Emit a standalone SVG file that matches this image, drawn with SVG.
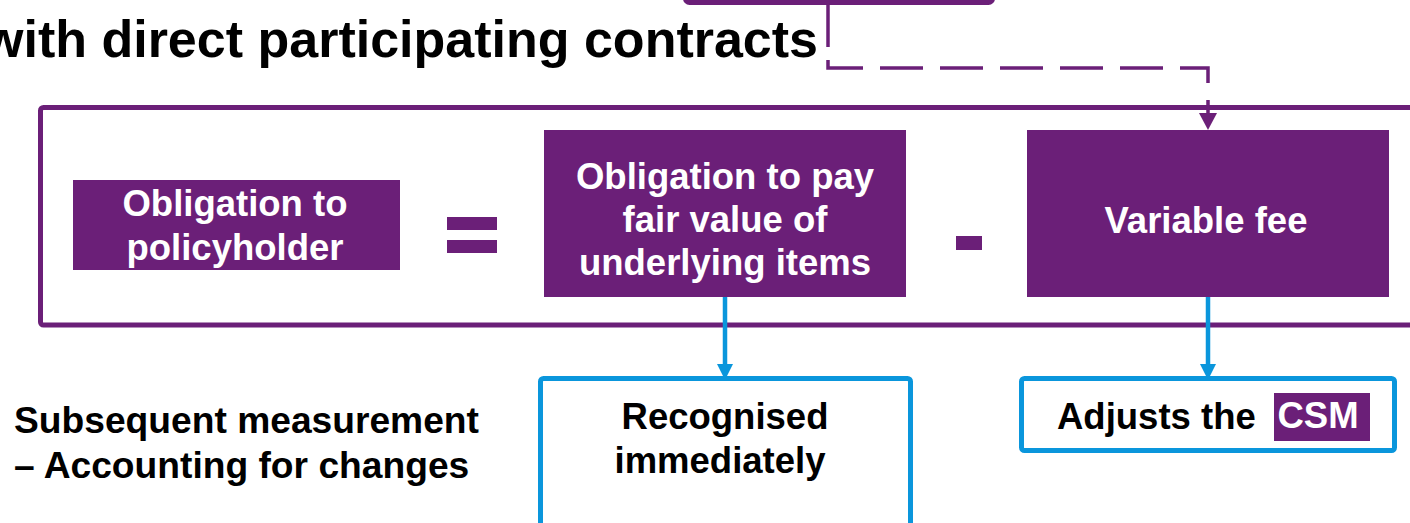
<svg xmlns="http://www.w3.org/2000/svg" width="1410" height="523" viewBox="0 0 1410 523">
<defs>
<style>
.t{font-family:"Liberation Sans",Arial,sans-serif;font-weight:bold;}
.w{fill:#ffffff;font-size:36.5px;}
.k{fill:#000000;font-size:36.5px;}
.pbox{fill:#6B1F78;}
.bbox{fill:#ffffff;stroke:#0A96DC;stroke-width:5;}
.pline{fill:none;stroke:#6B1F78;stroke-width:5;}
</style>
<marker id="ap" markerUnits="userSpaceOnUse" viewBox="0 0 17 18" markerWidth="17" markerHeight="18" refX="7" refY="9" orient="auto">
<path d="M0,0 L17,9 L0,18 z" fill="#6B1F78"/>
</marker>
<marker id="ab" markerUnits="userSpaceOnUse" viewBox="0 0 16 16" markerWidth="16" markerHeight="16" refX="6" refY="8" orient="auto">
<path d="M0,0 L16,8 L0,16 z" fill="#0A96DC"/>
</marker>
</defs>
<rect width="1410" height="523" fill="#ffffff"/>

<g id="title">
<text class="t" x="-17" y="57" font-size="52" fill="#000000">with direct participating contracts</text>
</g>

<g id="top-box">
<rect x="685.5" y="-50" width="307" height="52.5" rx="4" class="pline" fill="#ffffff"/>
</g>

<g id="frame">
<rect x="40.5" y="107.5" width="1400" height="217.5" rx="3" class="pline"/>
</g>

<g id="connectors">
<line x1="828" y1="3" x2="828" y2="47" stroke="#6B1F78" stroke-width="3.5"/>
<path d="M828,60 V68 H1208 V120" fill="none" stroke="#6B1F78" stroke-width="3.5" stroke-dasharray="43 17" marker-end="url(#ap)"/>
<path d="M725,297 V370" fill="none" stroke="#0A96DC" stroke-width="4.5" marker-end="url(#ab)"/>
<path d="M1208,297 V370" fill="none" stroke="#0A96DC" stroke-width="4.5" marker-end="url(#ab)"/>
</g>

<g id="obligation-policyholder">
<rect x="73" y="180" width="327" height="90" class="pbox"/>
<text class="t w" text-anchor="middle" x="235" y="216">Obligation to</text>
<text class="t w" text-anchor="middle" x="235" y="260">policyholder</text>
</g>

<g id="equals">
<rect x="447" y="217" width="50" height="13" class="pbox"/>
<rect x="447" y="240" width="50" height="13" class="pbox"/>
</g>

<g id="obligation-fair-value">
<rect x="544" y="130" width="362" height="167" class="pbox"/>
<text class="t w" text-anchor="middle" x="725" y="189">Obligation to pay</text>
<text class="t w" text-anchor="middle" x="725" y="232">fair value of</text>
<text class="t w" text-anchor="middle" x="725" y="275">underlying items</text>
</g>

<g id="minus">
<rect x="956" y="236" width="26" height="14" class="pbox"/>
</g>

<g id="variable-fee">
<rect x="1027" y="130" width="362" height="167" class="pbox"/>
<text class="t w" text-anchor="middle" x="1206" y="233">Variable fee</text>
</g>

<g id="recognised">
<rect x="540.5" y="378.5" width="370" height="170" rx="3" class="bbox"/>
<text class="t k" text-anchor="middle" x="725" y="429">Recognised</text>
<text class="t k" text-anchor="middle" x="720" y="473">immediately</text>
</g>

<g id="adjusts-csm">
<rect x="1021.5" y="378.5" width="373" height="72" rx="3" class="bbox"/>
<text class="t k" x="1057" y="429">Adjusts the</text>
<rect x="1274" y="393" width="96" height="48" class="pbox"/>
<text class="t w" text-anchor="middle" x="1318" y="428">CSM</text>
</g>

<g id="subsequent-label">
<text class="t k" x="14" y="433" style="font-size:37.2px">Subsequent measurement</text>
<text class="t k" x="14" y="478" style="font-size:37.2px">– Accounting for changes</text>
</g>
</svg>
